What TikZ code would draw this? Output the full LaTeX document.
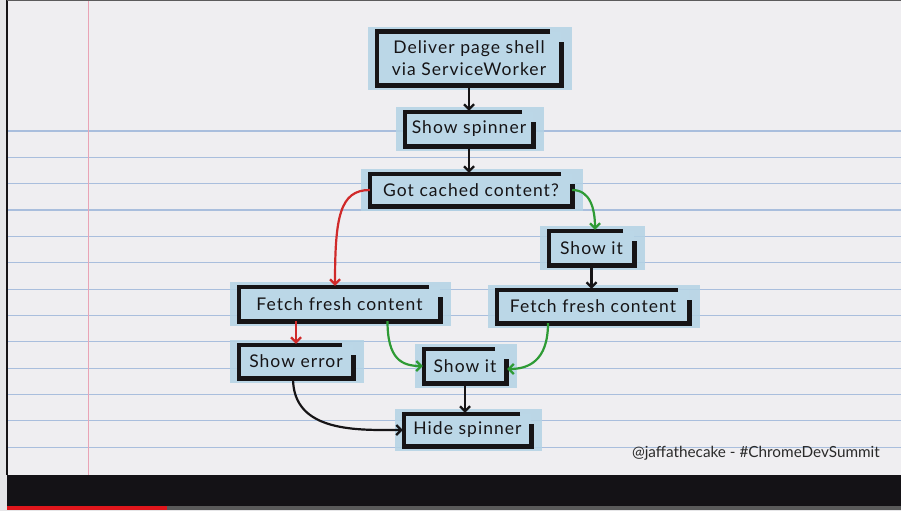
\documentclass[tikz,border=0pt]{standalone}
\usepackage{fontspec}
\setmainfont{Lato}
\newfontfamily\hand[LetterSpace=6]{Lato}
\usetikzlibrary{arrows.meta,calc}
\definecolor{pagegray}{HTML}{E6E6E8}
\definecolor{paper}{HTML}{EFEEF1}
\definecolor{rulecol}{HTML}{A9BEDD}
\definecolor{margincol}{HTML}{E9A3B5}
\definecolor{boxblue}{HTML}{BBD7E7}
\definecolor{tapeblue}{HTML}{B3D2E5}
\definecolor{ink}{HTML}{161416}
\definecolor{redarrow}{HTML}{D02A2A}
\definecolor{greenarrow}{HTML}{2E9B35}
\definecolor{barblack}{HTML}{141216}
\definecolor{progred}{HTML}{E0161C}
\definecolor{proggray}{HTML}{5A5A5A}
\definecolor{attrib}{HTML}{2A2A2A}
\pgfdeclarelayer{paperlayer}
\pgfdeclarelayer{tapelayer}
\pgfsetlayers{paperlayer,tapelayer,main}
\tikzset{
  flow/.style={fill=boxblue, inner sep=0pt, font=\hand\fontsize{17.5}{22}\selectfont, text=ink, align=center},
  edge/.style={line width=2.2pt, draw=ink, shorten >=1pt, -{Straight Barb[length=5pt,width=10pt,line width=2.2pt]}},
  redge/.style={edge, draw=redarrow},
  gedge/.style={edge, draw=greenarrow},
  border/.style={line width=4.6pt, draw=ink, line join=miter},
  tape/.style={fill=tapeblue, opacity=0.85},
}
\begin{document}
\begin{tikzpicture}[x=1pt,y=-1pt]
\useasboundingbox (0,0) rectangle (901,511);

% boxes
\node[flow, minimum width=184pt, minimum height=53pt] (deliver) at (469,58.5) {Deliver page shell\\via ServiceWorker};
\node[flow, minimum width=128pt, minimum height=34pt] (spin) at (469,129) {Show spinner};
\node[flow, minimum width=202pt, minimum height=32pt] (cached) at (471,190) {Got cached content?};
\node[flow, minimum width=85pt, minimum height=34pt] (showR) at (591.5,248) {Show it};
\node[flow, minimum width=192pt, minimum height=33pt] (fetchR) at (593,306.5) {Fetch fresh content};
\node[flow, minimum width=201pt, minimum height=34pt] (fetchL) at (339.5,304) {Fetch fresh content};
\node[flow, minimum width=114pt, minimum height=33pt] (err) at (296,361.5) {Show error};
\node[flow, minimum width=82pt, minimum height=34pt] (showM) at (465,366) {Show it};
\node[flow, minimum width=127pt, minimum height=32pt] (hide) at (467.5,430) {Hide spinner};

\node[font=\fontsize{15.3}{17}\selectfont, text=attrib, anchor=east, inner sep=0pt] (credit) at (880,453) {@jaffathecake - \#ChromeDevSummit};

% paper background
\begin{pgfonlayer}{paperlayer}
  \fill[pagegray] (0,0) rectangle (901,511);
  \fill[paper] (8,1) rectangle (901,475);
  \draw[ink, line width=1.5pt] (7.2,0) -- (7.2,475);
  \draw[ink!70, line width=1pt] (7,0.5) -- (901,0.5);
  \foreach \k in {0,...,12} {
    \draw[rulecol, line width=1.2pt] (8,{131+26.35*\k}) -- (901,{131+26.35*\k});
  }
  \draw[margincol, line width=1.3pt] (88.5,1) -- (88.5,475);
  \fill[barblack] (6.5,475) rectangle (901,506);
  \fill[progred] (6.5,506) rectangle (167,509.5);
  \fill[proggray] (167,506) rectangle (901,509.5);
\end{pgfonlayer}

% tape behind boxes
\begin{pgfonlayer}{tapelayer}
  \foreach \n in {deliver,spin,cached,showR,fetchR,fetchL,err,showM,hide} {
    \fill[tape] ([shift={(-9pt,5pt)}]\n.north west) rectangle ([shift={(11pt,-5pt)}]\n.south east);
  }
\end{pgfonlayer}

% sketchy borders
\foreach \n in {deliver,spin,cached,showR,fetchR,fetchL,err,showM,hide} {
  \draw[border] ([xshift=-11pt]\n.north east) -- (\n.north west) -- (\n.south west) -- (\n.south east) -- ([yshift=-10pt]\n.north east);
}

% connectors
\draw[edge] (deliver.south) -- (spin.north);
\draw[edge] (spin.south) -- (spin.south |- cached.north);
\draw[redge] (cached.west) .. controls +(-30,0) and +(0,-70) .. ([xshift=-4.5pt]fetchL.north);
\draw[gedge] (cached.east) .. controls +(18,0) and +(0,-22) .. ([xshift=3.5pt]showR.north);
\draw[edge] (showR.south) -- (showR.south |- fetchR.north);
\draw[redge] (err.north |- fetchL.south) -- (err.north);
\draw[gedge] ([xshift=48pt]fetchL.south) .. controls +(0,38) and +(-22,0) .. (showM.west);
\draw[gedge] ([xshift=-45pt]fetchR.south) .. controls +(0,38) and +(22,0) .. ([yshift=-3pt]showM.east);
\draw[edge] (showM.south) -- (showM.south |- hide.north);
\draw[edge] ([xshift=-3pt]err.south) .. controls +(0,55) and +(-45,0) .. (hide.west);
\end{tikzpicture}
\end{document}
